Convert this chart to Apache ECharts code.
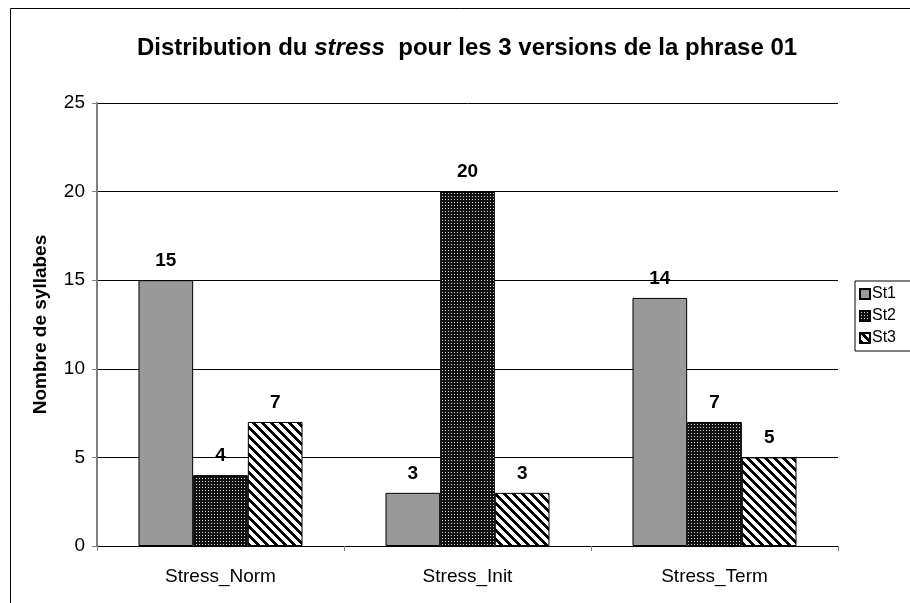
<!doctype html>
<html>
<head>
<meta charset="utf-8">
<script src="https://cdn.jsdelivr.net/npm/echarts@6/dist/echarts.min.js"></script>
<style>
* { margin: 0; padding: 0; }
#chart { width: 910px; height: 603px; overflow: hidden; }
</style>
</head>
<body>
<div id="chart"></div>
<script>
// donnees
var categories = ['Stress_Norm', 'Stress_Init', 'Stress_Term'];
var seriesNames = ['St1', 'St2', 'St3'];
var st1 = [15, 3, 14];
var st2 = [4, 20, 7];
var st3 = [7, 3, 5];

// motifs de remplissage (points / hachures)
function dotPattern() {
	var c = document.createElement('canvas');
	c.width = 3; c.height = 3;
	var ctx = c.getContext('2d');
	ctx.fillStyle = '#111';
	ctx.fillRect(0, 0, 3, 3);
	ctx.fillStyle = '#d8d8d8';
	ctx.fillRect(1, 1, 1, 1);
	return c;
}
function stripePattern() {
	var n = 9;
	var c = document.createElement('canvas');
	c.width = n; c.height = n;
	var ctx = c.getContext('2d');
	ctx.fillStyle = '#fff';
	ctx.fillRect(0, 0, n, n);
	ctx.fillStyle = '#000';
	for (var y = 0; y < n; y++) {
		for (var x = 0; x < n; x++) {
			if (((x - y) % n + n) % n < 4) ctx.fillRect(x, y, 1, 1);
		}
	}
	return c;
}

var fills = [
	'#999999',
	{ image: dotPattern(), repeat: 'repeat' },
	{ image: stripePattern(), repeat: 'repeat' }
];
var values = [st1, st2, st3];

var myChart = echarts.init(document.getElementById('chart'));

var series = [];
for (var i = 0; i < seriesNames.length; i++) {
	series.push({
		name: seriesNames[i],
		type: 'bar',
		data: values[i],
		barGap: '0%',
		barCategoryGap: '33.6%',
		itemStyle: { color: fills[i], borderColor: '#000', borderWidth: 1 },
		label: {
			show: true,
			position: 'top',
			distance: 10,
			fontFamily: 'Liberation Sans',
			fontWeight: 'bold',
			fontSize: 19,
			color: '#000'
		}
	});
}

var option = {
	animation: false,
	backgroundColor: '#fff',
	textStyle: { fontFamily: 'Liberation Sans' },
	title: {
		text: '{b|Distribution du }{i|stress}{b|  pour les 3 versions de la phrase 01}',
		left: 462,
		textAlign: 'center',
		top: 31,
		textStyle: {
			rich: {
				b: { fontFamily: 'Liberation Sans', fontWeight: 'bold', fontSize: 24, color: '#000' },
				i: { fontFamily: 'Liberation Sans', fontWeight: 'bold', fontStyle: 'italic', fontSize: 24, color: '#000' }
			}
		}
	},
	legend: {
		orient: 'vertical',
		left: 855,
		top: 281,
		padding: [5, 40, 5, 4],
		itemGap: 6,
		itemWidth: 10,
		itemHeight: 10,
		borderColor: '#000',
		borderWidth: 1,
		icon: 'rect',
		textStyle: { fontFamily: 'Liberation Sans', fontSize: 16, lineHeight: 16, color: '#000', padding: [0, 0, 0, -3] },
		data: seriesNames
	},
	grid: { left: 97, top: 103, right: 72, bottom: 57 },
	xAxis: {
		type: 'category',
		data: categories,
		axisLine: { lineStyle: { color: '#000', width: 1 } },
		axisTick: { show: true, length: 5, lineStyle: { color: '#808080' } },
		axisLabel: { fontFamily: 'Liberation Sans', fontSize: 19, color: '#000', margin: 21 }
	},
	yAxis: {
		type: 'value',
		min: 0,
		max: 25,
		interval: 5,
		name: 'Nombre de syllabes',
		nameLocation: 'middle',
		nameGap: 47,
		nameTextStyle: { fontFamily: 'Liberation Sans', fontWeight: 'bold', fontSize: 19, color: '#000' },
		axisLine: { show: true, lineStyle: { color: '#808080', width: 2 } },
		axisTick: { show: true, length: 5, lineStyle: { color: '#808080' } },
		axisLabel: { fontFamily: 'Liberation Sans', fontSize: 19, color: '#000', margin: 12 },
		splitLine: { show: true, lineStyle: { color: '#000', width: 1 } }
	},
	graphic: [{
		type: 'rect',
		left: 8,
		top: 6,
		shape: { width: 1000, height: 1000 },
		style: { fill: 'none', stroke: '#000', lineWidth: 1 },
		z: -10
	}],
	series: series
};

myChart.setOption(option);
</script>
</body>
</html>
